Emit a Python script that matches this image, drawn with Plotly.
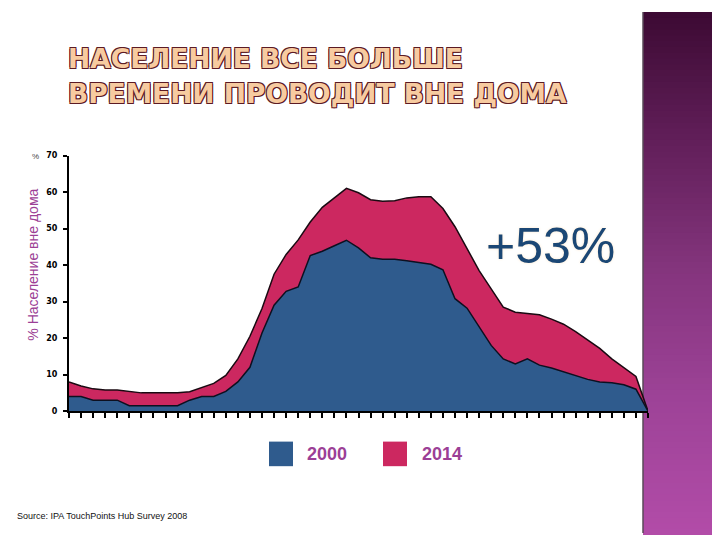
"""Население вне дома: 2000 vs 2014, по получасовым интервалам суток."""
import plotly.graph_objects as go

# half-hour slots across the day (no labels on the axis in the source)
SLOTS = list(range(49))

SHARE_2014 = [8.0, 6.9, 6.1, 5.8, 5.8, 5.3, 5.0, 5.0, 5.0, 5.0,
              5.3, 6.5, 7.6, 9.8, 14.3, 20.5, 28.1, 37.5, 42.9, 46.9,
              51.8, 55.8, 58.5, 61.0, 59.8, 57.9, 57.5, 57.6, 58.4, 58.7,
              58.7, 55.5, 50.5, 44.6, 38.5, 33.5, 28.5, 27.1, 26.7, 26.4,
              25.2, 23.8, 21.8, 19.4, 17.2, 14.3, 11.8, 9.5, 0.0]
SHARE_2000 = [4.0, 4.0, 3.0, 3.0, 3.0, 1.5, 1.5, 1.5, 1.5, 1.5,
              3.0, 4.0, 4.0, 5.4, 8.0, 12.0, 21.4, 29.0, 32.8, 34.0,
              42.6, 43.8, 45.3, 46.8, 44.7, 42.0, 41.6, 41.6, 41.2, 40.8,
              40.2, 38.7, 30.8, 28.2, 23.2, 18.0, 14.3, 12.9, 14.3, 12.6,
              11.8, 10.8, 9.7, 8.7, 8.0, 7.8, 7.2, 6.0, 0.0]

Y_TICKS = [0, 10, 20, 30, 40, 50, 60, 70]
SERIES = [("2000", "#2f5b8d"), ("2014", "#cc2860")]

# the page body has an 8px margin, so the figure is a bit smaller than the
# window and every position below is given in window pixels minus that offset
OFF = 8
W, H = 720 - OFF, 540 - OFF
BLUE, PINK = SERIES[0][1], SERIES[1][1]
PURPLE_TXT = "#9c3f96"


def px_x(p):
	return (p - OFF) / W


def px_y(p):
	return 1 - (p - OFF) / H


def panel_strips(n=90):
	"""vertical purple gradient for the right-hand decorative panel"""
	stops = [(0.0, (0x3c, 0x0a, 0x33)), (0.25, (0x62, 0x1f, 0x5a)),
	         (0.5, (0x85, 0x35, 0x7e)), (0.75, (0x9e, 0x43, 0x98)),
	         (1.0, (0xb2, 0x4c, 0xa8))]
	shapes = []
	for i in range(n):
		t = (i + 0.5) / n
		for (a, ca), (b, cb) in zip(stops, stops[1:]):
			if a <= t <= b:
				f = (t - a) / (b - a)
				c = tuple(round(ca[k] + (cb[k] - ca[k]) * f) for k in range(3))
				break
		col = "rgb(%d,%d,%d)" % c
		y_top = OFF + H * i / n
		y_bot = OFF + H * (i + 1) / n + 2  # overlap the next strip to avoid seams
		shapes.append(dict(type="rect", xref="paper", yref="paper", layer="below",
		                   x0=px_x(643), x1=1, y0=max(px_y(y_bot), 0), y1=px_y(y_top),
		                   line=dict(width=0), fillcolor=col))
	shapes.append(dict(type="line", xref="paper", yref="paper", layer="below",
	                   x0=px_x(643), x1=px_x(643), y0=px_y(538), y1=1,
	                   line=dict(color="#5a4a58", width=1.5)))
	return shapes


fig = go.Figure()
fig.add_scatter(x=SLOTS, y=SHARE_2014, mode="lines", fill="tozeroy", fillcolor=PINK,
                line=dict(color="#1a0a12", width=1.5), name="2014", showlegend=False)
fig.add_scatter(x=SLOTS, y=SHARE_2000, mode="lines", fill="tozeroy", fillcolor=BLUE,
                line=dict(color="#0d1020", width=1.5), name="2000", showlegend=False)

shapes = panel_strips()
annotations = []

# hand-drawn legend: coloured squares + purple year labels
for (label, color), sq_x, tx_x in zip(SERIES, [269, 383], [305, 420]):
	shapes.append(dict(type="rect", xref="paper", yref="paper",
	                   x0=px_x(sq_x), x1=px_x(sq_x + 24), y0=px_y(470), y1=px_y(445),
	                   fillcolor=color, line=dict(width=0)))
	annotations.append(dict(text=label, x=px_x(tx_x), y=px_y(458), xref="paper", yref="paper",
	                        xanchor="left", yanchor="middle", showarrow=False,
	                        font=dict(family="Liberation Sans", size=18, color=PURPLE_TXT,
	                                  weight="bold")))

outline = ("-1px -1px 0 #5b1a24, 1px -1px 0 #5b1a24, "
           "-1px 1px 0 #5b1a24, 1px 1px 0 #5b1a24")
for line_txt, yc in [("НАСЕЛЕНИЕ ВСЕ БОЛЬШЕ", 55), ("ВРЕМЕНИ ПРОВОДИТ ВНЕ ДОМА", 91)]:
	annotations.append(dict(text=line_txt, x=px_x(66), y=px_y(yc), xref="paper", yref="paper",
	                        xanchor="left", yanchor="middle", showarrow=False,
	                        font=dict(family="DejaVu Sans", size=26.5, color="#f7cba0",
	                                  weight="bold", shadow=outline)))

annotations += [
	dict(text="+53%", x=px_x(550), y=px_y(246), xref="paper", yref="paper",
	     xanchor="center", yanchor="middle", showarrow=False,
	     font=dict(family="Liberation Sans", size=50, color="#1b4775",
	               shadow="0 0 3px #fde8cc")),
	dict(text="% Население вне дома", x=px_x(33), y=px_y(265), xref="paper", yref="paper",
	     textangle=-90, xanchor="center", yanchor="middle", showarrow=False,
	     font=dict(family="Liberation Sans", size=14, color=PURPLE_TXT)),
	dict(text="%", x=px_x(35), y=px_y(155), xref="paper", yref="paper",
	     xanchor="center", yanchor="middle", showarrow=False,
	     font=dict(family="Liberation Sans", size=8, color="#444444")),
	dict(text="Source: IPA TouchPoints Hub Survey 2008", x=px_x(15), y=px_y(521),
	     xref="paper", yref="paper", xanchor="left", yanchor="middle", showarrow=False,
	     font=dict(family="Liberation Sans Narrow, Liberation Sans", size=9, color="#111111")),
]

fig.update_xaxes(range=[0, 48], domain=[px_x(69), px_x(648)], showgrid=False, zeroline=False,
                 showline=True, linecolor="black", linewidth=2, ticks="outside", ticklen=5,
                 tickwidth=1.5, tickcolor="black", dtick=1, tick0=0, showticklabels=False,
                 layer="above traces")
fig.update_yaxes(range=[0, 70], domain=[px_y(414), px_y(154)], showgrid=False, zeroline=False,
                 showline=True, linecolor="black", linewidth=2, ticks="outside", ticklen=4,
                 tickwidth=1.5, tickcolor="black", tickvals=Y_TICKS, ticklabelstandoff=4,
                 tickfont=dict(family="DejaVu Sans", size=8, color="black", weight="bold"),
                 layer="above traces")

fig.update_layout(width=W, height=H, margin=dict(l=0, r=0, t=0, b=0),
                  paper_bgcolor="white", plot_bgcolor="rgba(0,0,0,0)",
                  shapes=shapes, annotations=annotations, showlegend=False)

fig.write_html("out.html")
